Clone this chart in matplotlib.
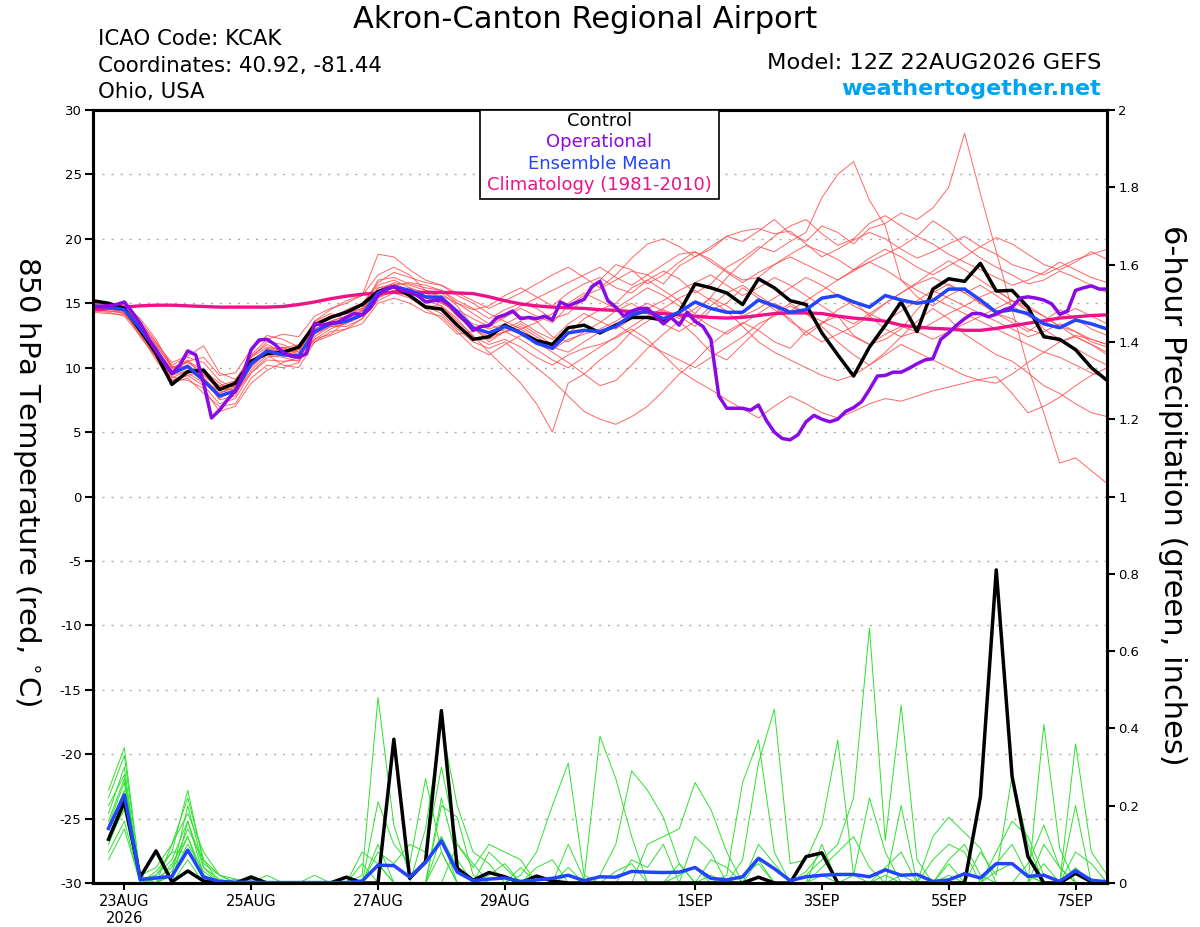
import numpy as np
import matplotlib
matplotlib.use("Agg")
from matplotlib import pyplot as plt
from matplotlib.patches import Rectangle

plt.rcParams['font.family'] = ['DejaVu Sans']

# forecast hours (GEFS 12Z 22AUG2026)
hours = np.arange(0, 385, 6)
hours_op = np.arange(0, 385, 3)
hours_pcp = np.arange(6, 385, 6)

tick_hours = [12, 60, 108, 156, 228, 276, 324, 372]
tick_labels = ["23AUG\n2026", "25AUG", "27AUG", "29AUG", "1SEP", "3SEP", "5SEP", "7SEP"]

# 850 hPa temperature, deg C
control_t = [15.2, 15.0, 14.6, 12.9, 11.1, 8.7, 9.7, 9.8, 8.3, 8.8, 10.5,
             11.1, 11.2, 11.6, 13.3, 13.9, 14.3, 14.9, 15.9, 16.3, 15.6, 14.7,
             14.55, 13.3, 12.2, 12.4, 13.3, 12.7, 12.1, 11.8, 13.1, 13.3, 12.7,
             13.3, 13.9, 13.9, 13.7, 14.3, 16.5, 16.2, 15.8, 14.9, 16.9, 16.2,
             15.2, 14.9, 12.7, 11.0, 9.35, 11.6, 13.3, 15.1, 12.8, 16.1, 16.9,
             16.7, 18.1, 15.95, 16.0, 14.7, 12.4, 12.2, 11.4, 10.0, 9.0]

mean_t = [14.8, 14.7, 14.5, 13.05, 11.4, 9.55, 10.1, 9.0, 7.8, 8.2, 10.3,
          11.3, 11.0, 10.9, 12.8, 13.4, 13.6, 14.1, 15.8, 16.3, 16.0, 15.5,
          15.45, 14.35, 13.1, 12.7, 13.2, 12.7, 11.9, 11.5, 12.7, 12.9, 12.8,
          13.2, 14.1, 14.4, 13.8, 14.3, 15.1, 14.6, 14.3, 14.3, 15.25, 14.8,
          14.3, 14.5, 15.4, 15.6, 15.1, 14.7, 15.6, 15.25, 15.0, 15.2, 16.1,
          16.1, 15.25, 14.3, 14.5, 14.2, 13.4, 13.1, 13.7, 13.4, 13.0]

climo_t = [14.5, 14.6, 14.7, 14.8, 14.85, 14.85, 14.8, 14.75, 14.7, 14.7, 14.7,
           14.7, 14.75, 14.9, 15.1, 15.35, 15.55, 15.7, 15.8, 15.85, 15.85, 15.85,
           15.85, 15.8, 15.75, 15.5, 15.2, 14.95, 14.8, 14.7, 14.65, 14.6, 14.5,
           14.45, 14.35, 14.3, 14.2, 14.1, 14.0, 13.9, 13.85, 13.9, 14.05, 14.2,
           14.25, 14.25, 14.2, 14.0, 13.85, 13.75, 13.6, 13.3, 13.15, 13.05, 13.0,
           12.9, 12.9, 13.05, 13.25, 13.45, 13.65, 13.85, 13.95, 14.05, 14.1]

oper_t = [14.7, 14.75, 14.8, 14.9, 15.1, 14.3, 13.45, 12.3, 11.3, 10.4, 9.55,
          10.2, 11.3, 11.0, 8.8, 6.1, 6.7, 7.5, 8.2, 9.55, 11.4, 12.15,
          12.2, 11.8, 11.2, 10.9, 10.8, 11.1, 13.45, 13.3, 13.45, 13.55, 13.9,
          14.2, 14.1, 14.6, 15.6, 16.15, 16.3, 16.0, 15.85, 15.6, 15.1, 15.2,
          15.25, 14.9, 14.2, 13.6, 12.9, 13.2, 13.25, 13.9, 14.1, 14.4, 13.8,
          13.9, 13.8, 14.0, 13.7, 15.1, 14.8, 15.05, 15.3, 16.3, 16.7, 15.2,
          14.7, 14.0, 14.4, 14.6, 14.6, 14.0, 13.4, 13.9, 13.3, 14.3, 13.6,
          13.2, 12.2, 7.8, 6.85, 6.85, 6.85, 6.7, 7.1, 5.9, 5.0, 4.5,
          4.4, 4.8, 5.8, 6.3, 6.0, 5.8, 6.0, 6.6, 6.9, 7.35, 8.3,
          9.35, 9.4, 9.65, 9.65, 9.95, 10.3, 10.6, 10.7, 12.2, 12.7, 13.3,
          13.8, 14.2, 14.2, 13.95, 14.15, 14.5, 14.7, 15.4, 15.5, 15.4, 15.25,
          14.95, 14.15, 14.4, 16.0, 16.2, 16.35, 16.1, 16.1]

# ensemble members, 850 hPa temperature
temp_m01 = [14.9, 14.8, 14.3, 12.8, 11.0, 9.2, 9.8, 9.5, 8.4, 8.6, 10.8,
            11.6, 11.4, 11.2, 13.2, 13.8, 14.5, 15.0, 16.4, 16.8, 16.2, 15.4,
            15.0, 14.5, 13.8, 13.2, 13.9, 14.6, 14.0, 13.5, 14.8, 15.6, 16.1,
            16.8, 17.5, 17.2, 16.5, 17.9, 18.6, 19.4, 20.2, 19.8, 20.6, 21.5,
            20.4, 19.8, 21.0, 20.5, 19.6, 20.8, 21.2, 22.0, 21.5, 22.4, 24.0,
            28.2, 23.5, 19.0, 14.5, 10.0, 6.5, 2.6, 3.0, 2.0, 1.0]
temp_m02 = [14.6, 14.5, 14.6, 13.4, 11.8, 10.0, 10.5, 9.8, 8.5, 8.8, 10.6,
            11.0, 10.8, 10.5, 12.2, 13.0, 13.5, 14.4, 16.2, 16.5, 16.0, 15.8,
            15.6, 15.0, 14.5, 14.8, 15.6, 16.2, 15.5, 14.8, 15.8, 16.5, 17.0,
            16.2, 15.8, 16.8, 17.5, 16.9, 15.8, 16.5, 17.8, 18.5, 19.4, 19.0,
            19.8, 20.5, 23.2, 25.0, 26.0, 23.0, 21.0, 16.8, 15.5, 14.8, 15.6,
            16.2, 15.0, 14.2, 13.5, 12.8, 13.6, 14.5, 13.8, 13.0, 12.5]
temp_m03 = [15.0, 14.9, 14.8, 13.6, 12.0, 10.2, 10.8, 10.4, 9.0, 8.4, 10.0,
            11.2, 11.5, 11.8, 13.5, 14.0, 14.3, 14.8, 15.5, 16.0, 15.8, 15.2,
            14.8, 13.6, 12.5, 11.2, 10.0, 8.8, 7.2, 5.0, 8.8, 9.5, 10.6,
            11.5, 12.8, 13.6, 14.5, 14.0, 13.2, 14.5, 15.0, 16.2, 15.4, 14.5,
            13.8, 12.5, 13.4, 14.5, 15.2, 14.0, 13.0, 12.4, 12.8, 13.5, 14.2,
            14.8, 15.5, 16.0, 15.2, 14.4, 13.0, 12.2, 11.5, 10.8, 10.2]
temp_m04 = [14.4, 14.3, 14.0, 12.5, 10.8, 9.0, 9.4, 8.6, 7.2, 7.6, 9.6,
            10.6, 10.5, 10.6, 12.0, 12.5, 13.0, 13.8, 15.2, 15.8, 15.6, 14.8,
            14.2, 13.0, 12.0, 11.5, 12.0, 11.0, 10.0, 9.0, 7.8, 6.6, 6.0,
            5.6, 6.2, 7.0, 8.2, 9.5, 10.5, 11.8, 12.8, 13.5, 12.9, 12.0,
            11.5, 12.8, 13.5, 14.0, 12.5, 11.8, 12.2, 13.0, 14.5, 15.8, 16.5,
            15.8, 15.0, 14.2, 13.8, 13.0, 12.6, 12.0, 12.4, 11.8, 11.0]
temp_m05 = [14.7, 14.6, 14.4, 13.2, 11.5, 9.8, 10.2, 9.2, 7.5, 7.8, 10.2,
            11.2, 11.0, 10.8, 12.6, 13.2, 13.2, 13.8, 15.5, 16.0, 15.6, 14.8,
            14.8, 13.8, 12.4, 11.8, 12.2, 11.6, 10.8, 10.2, 11.0, 11.5, 11.8,
            12.3, 13.0, 12.2, 11.0, 9.8, 9.0, 8.3, 7.5, 6.8, 6.1, 7.0,
            7.8, 7.2, 6.5, 6.1, 6.6, 7.2, 7.6, 7.4, 7.8, 8.2, 8.5,
            8.8, 9.1, 9.3, 8.0, 6.5, 7.0, 7.7, 8.6, 9.4, 10.0]
temp_m06 = [15.2, 15.0, 14.7, 13.0, 11.2, 9.0, 9.6, 8.8, 8.0, 8.5, 10.8,
            12.0, 11.8, 11.2, 13.3, 14.0, 14.2, 14.6, 16.8, 17.0, 16.5, 16.2,
            16.0, 15.2, 14.6, 13.8, 14.5, 15.0, 14.6, 13.8, 14.2, 15.4, 16.8,
            18.0, 17.6, 16.5, 17.2, 18.2, 19.0, 18.4, 17.5, 16.8, 17.0, 18.0,
            18.8, 19.5, 19.0, 18.4, 17.6, 18.5, 19.2, 18.6, 17.8, 17.2, 17.9,
            18.6, 19.4, 20.1, 19.6, 18.8, 18.0, 17.6, 18.2, 19.0, 18.4]
temp_m07 = [14.5, 14.4, 14.2, 12.7, 11.0, 9.6, 10.5, 10.8, 9.4, 9.6, 11.4,
            12.5, 12.2, 11.6, 13.6, 14.5, 15.2, 15.6, 17.2, 17.8, 17.2, 16.0,
            15.4, 14.0, 13.2, 12.0, 12.8, 13.4, 12.6, 11.8, 12.6, 13.8, 14.5,
            15.0, 16.2, 16.8, 16.0, 15.2, 14.2, 15.5, 17.0, 18.2, 19.2, 20.2,
            21.0, 21.5, 20.4, 19.5, 20.0, 21.2, 21.8, 21.0, 20.2, 21.4, 20.6,
            19.4, 18.5, 17.8, 17.2, 16.5, 16.8, 17.5, 17.0, 16.4, 15.8]
temp_m08 = [14.9, 14.8, 14.6, 13.5, 11.9, 10.4, 10.9, 11.7, 9.6, 9.1, 10.5,
            11.0, 10.2, 10.0, 12.0, 12.8, 13.0, 13.4, 15.0, 15.4, 15.0, 14.3,
            14.0, 12.8, 11.6, 11.0, 11.8, 12.5, 12.0, 11.2, 10.4, 9.5, 8.6,
            9.0, 10.2, 11.5, 12.6, 13.6, 12.5, 11.2, 10.6, 11.8, 13.0, 14.2,
            15.0, 14.2, 13.2, 12.0, 11.0, 10.2, 11.2, 12.4, 13.6, 14.6, 13.8,
            12.6, 11.8, 11.0, 10.5, 9.6, 8.6, 8.0, 7.2, 6.5, 6.2]
temp_m09 = [14.6, 14.5, 14.4, 13.3, 11.6, 9.4, 9.8, 9.0, 8.2, 8.0, 9.6,
            10.8, 11.0, 11.4, 13.0, 13.6, 14.0, 14.9, 16.6, 17.4, 17.0, 16.6,
            16.4, 15.6, 15.0, 14.2, 13.6, 13.0, 13.5, 14.2, 15.0, 15.8, 15.2,
            14.6, 15.4, 16.2, 15.6, 14.8, 14.0, 13.2, 12.6, 13.4, 14.2, 15.0,
            14.4, 15.2, 16.0, 16.8, 17.5, 18.2, 17.6, 16.8, 16.0, 15.4, 14.8,
            14.2, 13.6, 13.0, 12.4, 11.8, 11.2, 10.8, 10.2, 9.6, 9.2]
temp_m10 = [14.8, 14.6, 14.2, 12.6, 10.6, 8.8, 9.2, 8.0, 7.0, 7.2, 9.2,
            10.2, 10.0, 10.4, 12.4, 13.2, 13.4, 14.0, 15.4, 16.0, 16.2, 15.8,
            15.2, 14.2, 13.4, 13.0, 13.4, 14.0, 13.6, 12.4, 12.0, 12.8, 13.5,
            14.4, 15.0, 14.2, 13.4, 12.8, 13.6, 14.8, 15.8, 16.4, 15.6, 14.8,
            13.6, 12.8, 12.0, 12.6, 13.2, 14.0, 15.0, 15.8, 16.6, 17.5, 18.3,
            17.6, 16.8, 16.0, 15.2, 14.6, 14.0, 13.2, 12.8, 12.0, 11.6]
temp_m11 = [15.1, 15.0, 14.9, 13.8, 12.2, 10.0, 10.4, 9.6, 8.6, 9.0, 11.0,
            12.2, 12.6, 12.4, 14.0, 14.6, 15.0, 15.6, 18.8, 18.6, 17.6, 16.8,
            16.4, 15.8, 15.2, 14.6, 15.2, 15.8, 16.5, 17.2, 17.8, 17.0, 16.2,
            17.2, 18.5, 19.6, 20.0, 19.4, 18.6, 19.2, 20.2, 20.6, 20.8, 20.4,
            20.6, 19.6, 18.6, 19.2, 19.9, 20.5, 20.0, 19.2, 18.5, 19.0, 19.6,
            20.2, 19.4, 18.8, 18.0, 17.6, 17.2, 17.8, 18.4, 18.8, 19.2]
temp_m12 = [14.3, 14.2, 14.1, 12.9, 11.3, 9.3, 9.0, 8.4, 6.6, 7.0, 8.8,
            9.8, 10.4, 10.8, 12.2, 12.6, 13.6, 14.2, 15.6, 15.8, 15.4, 14.6,
            13.8, 12.6, 12.8, 13.4, 12.8, 12.2, 11.4, 10.6, 10.0, 10.8, 11.6,
            12.4, 13.2, 14.0, 14.6, 15.4, 16.0, 15.2, 14.4, 13.2, 12.0, 11.2,
            10.6, 10.0, 9.4, 9.0, 9.4, 10.2, 11.0, 11.8, 11.2, 10.6, 10.0,
            9.4, 9.0, 8.8, 9.5, 10.4, 11.2, 12.0, 12.5, 12.2, 11.8]
temp_m13 = [14.7, 14.7, 14.6, 13.0, 11.4, 9.9, 10.6, 9.2, 8.0, 8.6, 10.9,
            11.8, 11.2, 11.4, 13.6, 14.2, 13.8, 14.4, 16.0, 16.6, 16.4, 16.0,
            15.8, 14.8, 13.2, 12.6, 13.0, 13.6, 12.8, 12.2, 13.4, 14.2, 13.6,
            13.0, 13.8, 14.6, 15.2, 16.0, 16.6, 17.2, 16.4, 15.6, 16.2, 17.0,
            16.4, 15.6, 14.8, 14.0, 13.4, 14.2, 15.0, 15.8, 16.5, 17.0, 16.4,
            15.8, 16.4, 15.6, 14.8, 14.0, 13.4, 14.0, 14.6, 14.0, 13.4]
temp_m14 = [15.0, 14.9, 14.4, 12.4, 10.8, 9.0, 9.4, 9.8, 8.8, 8.0, 9.8,
            11.0, 11.6, 11.0, 12.6, 13.4, 13.8, 14.5, 16.2, 16.2, 15.8, 15.6,
            15.0, 14.4, 13.0, 12.2, 12.8, 13.2, 12.4, 11.6, 11.2, 12.0, 12.8,
            13.4, 12.6, 11.8, 11.2, 10.6, 10.0, 10.8, 11.6, 12.4, 13.4, 14.0,
            14.8, 14.2, 13.6, 13.0, 12.4, 11.8, 12.6, 13.2, 12.8, 12.2, 12.8,
            13.4, 14.0, 14.6, 15.2, 14.8, 14.0, 13.2, 12.4, 11.8, 11.2]
temp_m15 = [14.5, 14.4, 14.3, 13.1, 11.7, 10.1, 10.0, 9.4, 8.3, 8.3, 10.1,
            11.4, 11.6, 11.0, 13.0, 13.6, 14.0, 14.6, 16.0, 16.4, 16.6, 16.4,
            16.0, 15.0, 14.2, 13.4, 14.0, 14.8, 15.4, 16.0, 16.6, 17.2, 17.8,
            17.0, 16.4, 17.2, 18.0, 18.8, 19.0, 18.2, 17.4, 16.6, 17.4, 18.0,
            18.6, 18.0, 17.4, 16.8, 17.6, 18.2, 18.8, 19.4, 20.2, 19.6, 18.8,
            18.2, 17.6, 17.0, 16.4, 16.8, 17.4, 18.2, 17.6, 17.0, 16.6]
temp_m16 = [14.8, 14.7, 14.5, 13.0, 11.2, 9.5, 10.2, 9.1, 7.6, 8.4, 10.5,
            11.5, 11.2, 11.0, 12.9, 13.3, 13.5, 14.1, 15.8, 16.2, 15.9, 15.4,
            15.2, 14.0, 13.0, 12.4, 12.8, 13.0, 12.2, 11.4, 12.2, 12.6, 13.0,
            13.6, 14.4, 15.0, 14.4, 13.8, 14.6, 15.4, 14.8, 14.0, 14.6, 15.4,
            16.2, 17.0, 16.4, 15.6, 14.8, 14.2, 13.6, 14.4, 15.2, 16.0, 15.4,
            14.8, 14.2, 13.6, 13.0, 12.4, 12.8, 13.4, 12.8, 12.2, 11.8]

# 6-hour precipitation, inches
control_p = [0.113, 0.21, 0.015, 0.083, 0.003, 0.031, 0.005, 0.0, 0.0, 0.015,
             0.0, 0.0, 0.0, 0.0, 0.0, 0.015, 0.0, 0.0, 0.372, 0.012,
             0.055, 0.446, 0.038, 0.007, 0.027, 0.016, 0.0, 0.018, 0.005, 0.0,
             0.0, 0.0, 0.0, 0.0, 0.0, 0.0, 0.0, 0.0, 0.0, 0.0,
             0.0, 0.015, 0.0, 0.0, 0.068, 0.078, 0.0, 0.0, 0.0, 0.0,
             0.0, 0.0, 0.0, 0.0, 0.0, 0.223, 0.81, 0.275, 0.068, 0.0,
             0.0, 0.025, 0.003, 0.0]

mean_p = [0.141, 0.228, 0.009, 0.013, 0.017, 0.085, 0.015, 0.004, 0.002, 0.002,
          0.001, 0.001, 0.001, 0.001, 0.001, 0.001, 0.005, 0.046, 0.045, 0.015,
          0.053, 0.109, 0.028, 0.006, 0.01, 0.013, 0.004, 0.008, 0.012, 0.02,
          0.006, 0.016, 0.015, 0.03, 0.028, 0.027, 0.028, 0.04, 0.012, 0.008,
          0.016, 0.064, 0.037, 0.006, 0.016, 0.02, 0.022, 0.022, 0.016, 0.034,
          0.02, 0.022, 0.004, 0.008, 0.024, 0.013, 0.05, 0.05, 0.017, 0.02,
          0.004, 0.032, 0.007, 0.003]

precip_m01 = [0.24, 0.35, 0.02, 0.0, 0.05, 0.12, 0.02, 0.0, 0.0, 0.0,
              0.0, 0.0, 0.0, 0.0, 0.0, 0.0, 0.02, 0.48, 0.15, 0.02,
              0.05, 0.12, 0.04, 0.0, 0.0, 0.0, 0.02, 0.08, 0.2, 0.31,
              0.02, 0.0, 0.03, 0.05, 0.0, 0.0, 0.02, 0.04, 0.0, 0.0,
              0.02, 0.05, 0.0, 0.0, 0.02, 0.06, 0.1, 0.22, 0.66, 0.11,
              0.46, 0.06, 0.0, 0.02, 0.0, 0.0, 0.03, 0.05, 0.02, 0.0,
              0.0, 0.04, 0.0, 0.0]
precip_m02 = [0.18, 0.3, 0.0, 0.02, 0.08, 0.24, 0.05, 0.02, 0.0, 0.0,
              0.02, 0.0, 0.0, 0.0, 0.0, 0.0, 0.0, 0.21, 0.1, 0.05,
              0.27, 0.08, 0.0, 0.0, 0.02, 0.05, 0.0, 0.0, 0.0, 0.1,
              0.01, 0.38, 0.27, 0.12, 0.0, 0.0, 0.0, 0.0, 0.02, 0.0,
              0.0, 0.0, 0.0, 0.0, 0.0, 0.02, 0.0, 0.0, 0.0, 0.0,
              0.0, 0.0, 0.12, 0.17, 0.13, 0.09, 0.0, 0.0, 0.0, 0.41,
              0.09, 0.0, 0.0, 0.0]
precip_m03 = [0.12, 0.22, 0.02, 0.04, 0.1, 0.18, 0.08, 0.02, 0.01, 0.0,
              0.0, 0.0, 0.0, 0.02, 0.0, 0.0, 0.08, 0.05, 0.0, 0.0,
              0.14, 0.41, 0.2, 0.08, 0.05, 0.0, 0.0, 0.0, 0.0, 0.0,
              0.0, 0.02, 0.1, 0.29, 0.24, 0.17, 0.05, 0.0, 0.0, 0.0,
              0.0, 0.0, 0.0, 0.0, 0.0, 0.0, 0.0, 0.0, 0.0, 0.0,
              0.02, 0.0, 0.0, 0.06, 0.1, 0.02, 0.0, 0.0, 0.0, 0.0,
              0.0, 0.36, 0.08, 0.02]
precip_m04 = [0.08, 0.16, 0.0, 0.0, 0.02, 0.1, 0.03, 0.0, 0.0, 0.02,
              0.0, 0.0, 0.0, 0.0, 0.0, 0.0, 0.0, 0.08, 0.05, 0.1,
              0.08, 0.3, 0.1, 0.04, 0.1, 0.08, 0.06, 0.0, 0.0, 0.02,
              0.0, 0.0, 0.0, 0.0, 0.1, 0.12, 0.14, 0.26, 0.19, 0.08,
              0.0, 0.0, 0.0, 0.0, 0.0, 0.0, 0.0, 0.0, 0.0, 0.02,
              0.0, 0.0, 0.0, 0.0, 0.0, 0.0, 0.08, 0.16, 0.12, 0.02,
              0.0, 0.2, 0.0, 0.0]
precip_m05 = [0.15, 0.26, 0.01, 0.02, 0.06, 0.16, 0.04, 0.01, 0.0, 0.0,
              0.0, 0.0, 0.0, 0.0, 0.0, 0.0, 0.05, 0.0, 0.0, 0.0,
              0.0, 0.2, 0.17, 0.02, 0.0, 0.0, 0.04, 0.0, 0.0, 0.0,
              0.0, 0.0, 0.0, 0.0, 0.0, 0.0, 0.0, 0.0, 0.0, 0.02,
              0.26, 0.37, 0.08, 0.0, 0.0, 0.0, 0.0, 0.0, 0.0, 0.0,
              0.0, 0.0, 0.0, 0.0, 0.0, 0.0, 0.0, 0.0, 0.0, 0.0,
              0.0, 0.0, 0.0, 0.0]
precip_m06 = [0.2, 0.28, 0.0, 0.01, 0.04, 0.14, 0.06, 0.02, 0.0, 0.0,
              0.0, 0.0, 0.0, 0.0, 0.0, 0.0, 0.0, 0.0, 0.0, 0.0,
              0.0, 0.08, 0.0, 0.0, 0.0, 0.0, 0.0, 0.0, 0.0, 0.0,
              0.0, 0.0, 0.0, 0.0, 0.0, 0.0, 0.0, 0.0, 0.0, 0.0,
              0.06, 0.31, 0.45, 0.05, 0.06, 0.15, 0.37, 0.02, 0.0, 0.0,
              0.2, 0.0, 0.0, 0.0, 0.0, 0.0, 0.0, 0.0, 0.0, 0.0,
              0.0, 0.0, 0.0, 0.0]
precip_m07 = [0.1, 0.2, 0.0, 0.03, 0.08, 0.08, 0.02, 0.0, 0.01, 0.0,
              0.0, 0.0, 0.0, 0.0, 0.0, 0.0, 0.0, 0.0, 0.0, 0.0,
              0.0, 0.0, 0.0, 0.0, 0.0, 0.0, 0.0, 0.0, 0.0, 0.0,
              0.0, 0.0, 0.0, 0.0, 0.0, 0.0, 0.0, 0.0, 0.0, 0.0,
              0.0, 0.0, 0.0, 0.0, 0.0, 0.0, 0.0, 0.02, 0.22, 0.08,
              0.0, 0.0, 0.0, 0.0, 0.0, 0.08, 0.02, 0.28, 0.1, 0.0,
              0.0, 0.0, 0.0, 0.0]
precip_m08 = [0.22, 0.33, 0.01, 0.0, 0.02, 0.2, 0.04, 0.0, 0.0, 0.0,
              0.0, 0.0, 0.0, 0.0, 0.0, 0.0, 0.0, 0.0, 0.0, 0.0,
              0.0, 0.0, 0.0, 0.0, 0.08, 0.04, 0.0, 0.0, 0.0, 0.0,
              0.0, 0.0, 0.0, 0.06, 0.04, 0.1, 0.0, 0.12, 0.08, 0.0,
              0.0, 0.06, 0.0, 0.0, 0.0, 0.0, 0.0, 0.0, 0.0, 0.0,
              0.0, 0.0, 0.0, 0.0, 0.0, 0.0, 0.0, 0.0, 0.05, 0.15,
              0.04, 0.0, 0.0, 0.0]
precip_m09 = [0.06, 0.14, 0.0, 0.0, 0.0, 0.06, 0.0, 0.0, 0.0, 0.0,
              0.0, 0.0, 0.0, 0.0, 0.0, 0.0, 0.0, 0.05, 0.0, 0.0,
              0.0, 0.12, 0.0, 0.0, 0.0, 0.0, 0.0, 0.0, 0.0, 0.0,
              0.0, 0.0, 0.0, 0.0, 0.0, 0.0, 0.0, 0.0, 0.0, 0.0,
              0.0, 0.0, 0.0, 0.0, 0.0, 0.1, 0.0, 0.0, 0.0, 0.0,
              0.0, 0.0, 0.0, 0.05, 0.0, 0.0, 0.0, 0.0, 0.0, 0.05,
              0.0, 0.0, 0.0, 0.0]
precip_m10 = [0.14, 0.24, 0.0, 0.0, 0.1, 0.22, 0.06, 0.0, 0.0, 0.01,
              0.0, 0.0, 0.0, 0.0, 0.0, 0.0, 0.0, 0.0, 0.0, 0.0,
              0.0, 0.0, 0.1, 0.05, 0.0, 0.0, 0.0, 0.04, 0.06, 0.0,
              0.0, 0.0, 0.0, 0.0, 0.0, 0.0, 0.05, 0.0, 0.0, 0.0,
              0.0, 0.0, 0.0, 0.0, 0.03, 0.08, 0.0, 0.0, 0.0, 0.0,
              0.0, 0.0, 0.06, 0.1, 0.08, 0.0, 0.0, 0.0, 0.0, 0.0,
              0.0, 0.08, 0.05, 0.0]
precip_m11 = [0.16, 0.27, 0.0, 0.0, 0.0, 0.16, 0.02, 0.0, 0.0, 0.0,
              0.0, 0.0, 0.0, 0.0, 0.0, 0.0, 0.0, 0.1, 0.0, 0.0,
              0.0, 0.22, 0.06, 0.0, 0.0, 0.0, 0.0, 0.0, 0.0, 0.04,
              0.0, 0.0, 0.0, 0.0, 0.0, 0.0, 0.0, 0.0, 0.0, 0.0,
              0.0, 0.0, 0.0, 0.0, 0.0, 0.0, 0.0, 0.0, 0.0, 0.04,
              0.08, 0.0, 0.0, 0.0, 0.0, 0.0, 0.05, 0.1, 0.02, 0.0,
              0.0, 0.0, 0.0, 0.0]
precip_m12 = [0.11, 0.19, 0.0, 0.0, 0.03, 0.12, 0.0, 0.0, 0.0, 0.0,
              0.0, 0.0, 0.0, 0.0, 0.0, 0.0, 0.0, 0.0, 0.0, 0.0,
              0.0, 0.0, 0.0, 0.0, 0.0, 0.0, 0.0, 0.0, 0.0, 0.0,
              0.0, 0.0, 0.0, 0.0, 0.0, 0.0, 0.0, 0.0, 0.06, 0.04,
              0.0, 0.1, 0.05, 0.0, 0.0, 0.04, 0.08, 0.12, 0.04, 0.0,
              0.0, 0.0, 0.0, 0.0, 0.0, 0.0, 0.0, 0.0, 0.0, 0.1,
              0.04, 0.0, 0.0, 0.0]

temp_members = [temp_m01, temp_m02, temp_m03, temp_m04, temp_m05, temp_m06,
                temp_m07, temp_m08, temp_m09, temp_m10, temp_m11, temp_m12,
                temp_m13, temp_m14, temp_m15, temp_m16]
precip_members = [precip_m01, precip_m02, precip_m03, precip_m04, precip_m05,
                  precip_m06, precip_m07, precip_m08, precip_m09, precip_m10,
                  precip_m11, precip_m12]

RED = '#ff4a4a'
GREEN = '#2ee02e'
PURPLE = '#8a0ae6'
BLUE = '#2244ff'
PINK = '#ee1188'

fig = plt.figure(figsize=(12, 9.27), dpi=100)
ax = fig.add_axes([0.0772, 0.0475, 0.8455, 0.8338])
ax2 = ax.twinx()

for m in temp_members:
    ax.plot(hours, m, color=RED, lw=0.7, alpha=0.85, zorder=2)
ax.plot(hours, climo_t, color=PINK, lw=2.4, zorder=3)
ax.plot(hours, control_t, color='black', lw=2.5, zorder=4)
ax.plot(hours, mean_t, color=BLUE, lw=2.5, zorder=5)
ax.plot(hours_op, oper_t, color=PURPLE, lw=2.5, zorder=6)

for m in precip_members:
    ax2.plot(hours_pcp, m, color=GREEN, lw=0.7, zorder=2)
ax2.plot(hours_pcp, control_p, color='black', lw=2.5, zorder=4)
ax2.plot(hours_pcp, mean_p, color=BLUE, lw=2.5, zorder=5)

ax.set_xlim(0, 384)
ax.set_ylim(-30, 30)
ax2.set_ylim(0, 2)
ax.set_yticks(np.arange(-30, 31, 5))
ax.set_yticklabels([str(v) for v in range(-30, 31, 5)])
ax2.set_yticks(np.arange(0, 2.01, 0.2))
ax2.set_yticklabels(['0', '0.2', '0.4', '0.6', '0.8', '1', '1.2', '1.4', '1.6', '1.8', '2'])
ax.set_xticks(tick_hours)
ax.set_xticklabels(tick_labels, fontsize=10.5)
ax.tick_params(axis='y', direction='out', length=6, width=1.5, labelsize=9.5, pad=2)
ax.tick_params(axis='x', direction='out', length=5, width=1.5, pad=3)
ax2.tick_params(axis='y', direction='out', length=6, width=1.5, labelsize=9.5, pad=2)

for v in range(-25, 30, 5):
    ax.axhline(v, color='#aaaaaa', lw=1.0, linestyle=(0, (1.5, 5)), zorder=1)

for a in (ax, ax2):
    for s in a.spines.values():
        s.set_linewidth(2.2)
        s.set_zorder(10)

ax.set_ylabel("850 hPa Temperature (red, $^{\\circ}$C)", fontsize=21,
              rotation=270, va='center', ha='center')
ax.yaxis.set_label_coords(-0.065, 0.52)
ax2.set_ylabel("6-hour Precipitation (green, inches)", fontsize=22,
               rotation=270, va='center', ha='center')
ax2.yaxis.set_label_coords(1.064, 0.502)

# legend box
ax2.add_patch(Rectangle((0.382, 0.885), 0.235, 0.115, transform=ax2.transAxes,
                        facecolor='white', edgecolor='black', lw=1.2, zorder=20))
leg_items = [("Control", 'black'), ("Operational", PURPLE),
             ("Ensemble Mean", BLUE), ("Climatology (1981-2010)", PINK)]
for k, (txt, c) in enumerate(leg_items):
    ax2.text(0.4995, 0.986 - k * 0.0276, txt, color=c, fontsize=13,
             ha='center', va='center', transform=ax2.transAxes, zorder=21)

fig.text(0.4875, 0.9795, "Akron-Canton Regional Airport", fontsize=22, ha='center', va='center')
fig.text(0.0817, 0.958, "ICAO Code: KCAK", fontsize=15.3, ha='left', va='center')
fig.text(0.0817, 0.929, "Coordinates: 40.92, -81.44", fontsize=15.3, ha='left', va='center')
fig.text(0.0817, 0.901, "Ohio, USA", fontsize=15.3, ha='left', va='center')
fig.text(0.9175, 0.932, "Model: 12Z 22AUG2026 GEFS", fontsize=16.2, ha='right', va='center')
fig.text(0.9175, 0.904, "weathertogether.net", fontsize=16, fontweight='bold',
         color='#00a2f2', ha='right', va='center')

fig.savefig("out.png", dpi=100)
